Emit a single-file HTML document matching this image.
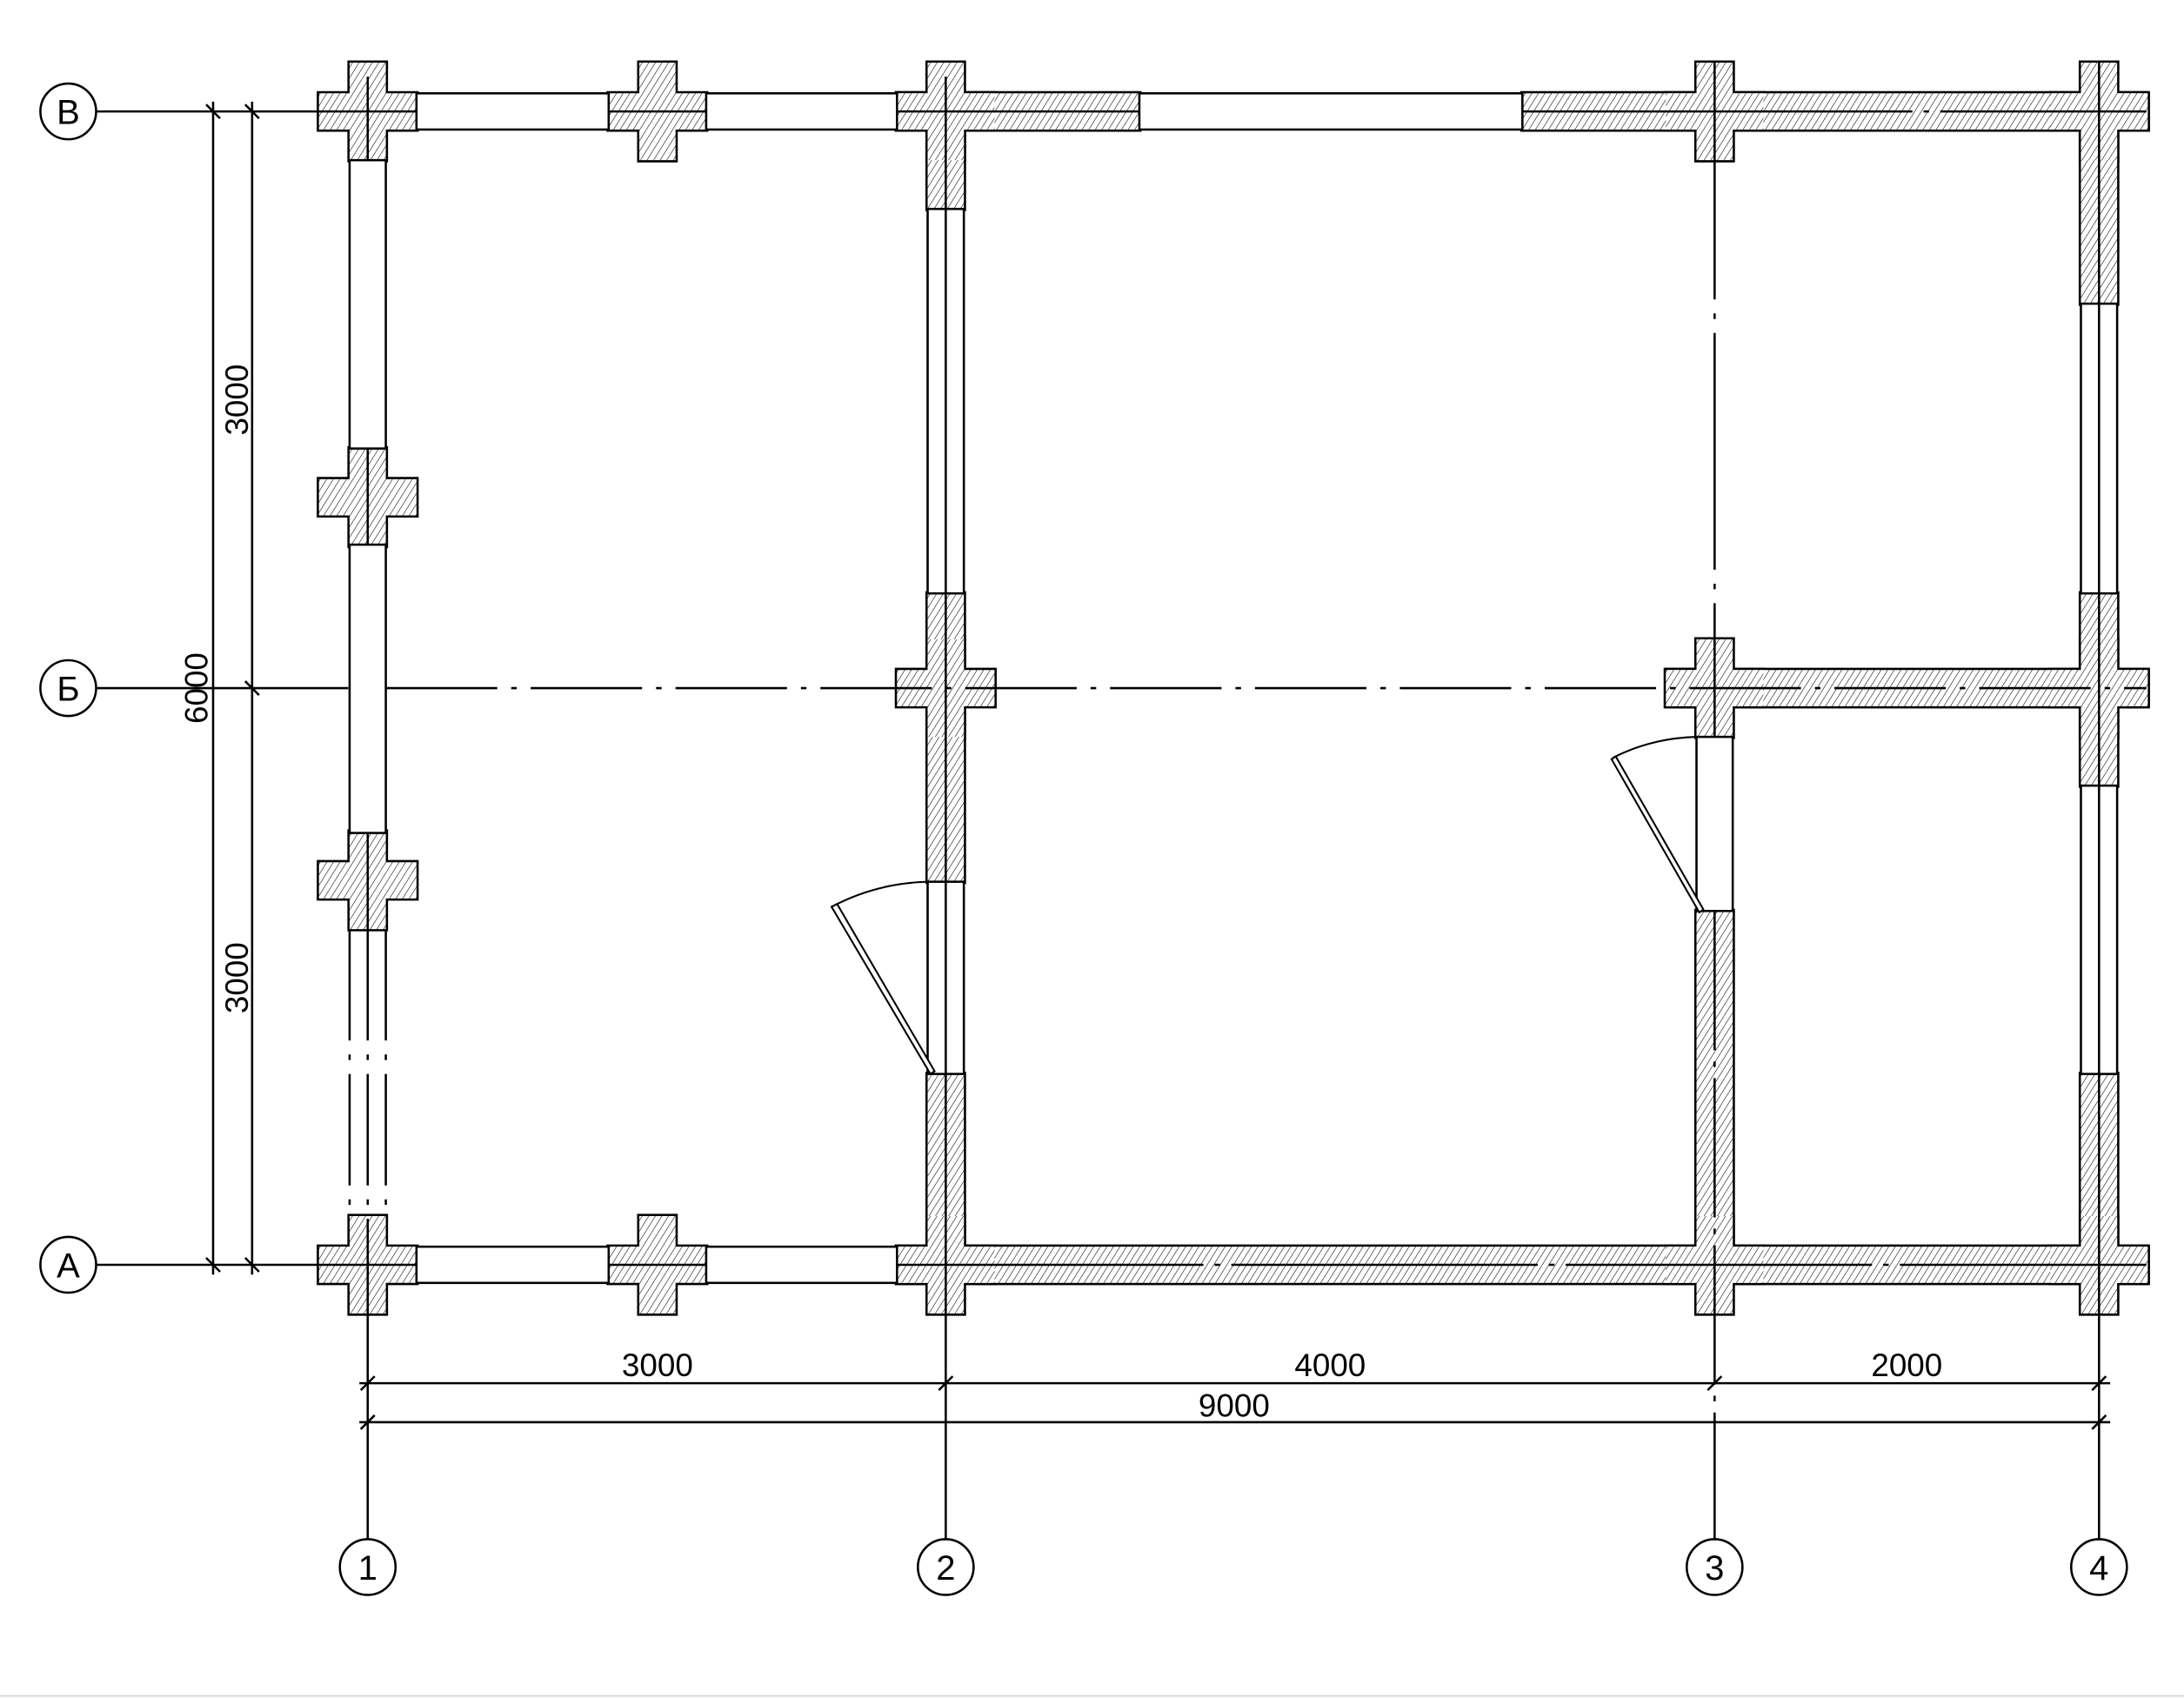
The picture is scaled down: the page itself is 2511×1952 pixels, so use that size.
<!DOCTYPE html>
<html><head><meta charset="utf-8"><style>html,body{margin:0;padding:0;background:#fff}svg{display:block}</style></head><body>
<svg width="2511" height="1952" viewBox="0 0 1568 1219" preserveAspectRatio="none" xmlns="http://www.w3.org/2000/svg" xmlns:xlink="http://www.w3.org/1999/xlink" font-family="Liberation Sans, DejaVu Sans, sans-serif">
<defs>
<pattern id="h" patternUnits="userSpaceOnUse" width="4" height="4" patternTransform="rotate(32)">
<rect width="4" height="4" fill="#fff"/><line x1="0" y1="0" x2="0" y2="4" stroke="#000" stroke-width="0.7"/>
</pattern>
<path id="cr" d="M-13,-35 H13 V-13 H35 V13 H13 V35 H-13 V13 H-35 V-13 H-13 Z"/>
<g id="walls">
<rect x="644" y="67" width="174" height="26"/>
<rect x="1093" y="67" width="448" height="26"/>
<rect x="666" y="93" width="26" height="57"/>
<rect x="666" y="426" width="26" height="207"/>
<rect x="666" y="771" width="26" height="150"/>
<rect x="1197" y="481" width="344" height="26"/>
<rect x="1218" y="654" width="26" height="267"/>
<rect x="1494" y="93" width="26" height="125"/>
<rect x="1494" y="426" width="26" height="138"/>
<rect x="1494" y="771" width="26" height="150"/>
<rect x="644" y="895" width="897" height="26"/>
<use xlink:href="#cr" transform="translate(264,80)"/>
<use xlink:href="#cr" transform="translate(472,80)"/>
<use xlink:href="#cr" transform="translate(679,80)"/>
<use xlink:href="#cr" transform="translate(1231,80)"/>
<use xlink:href="#cr" transform="translate(1507,80)"/>
<use xlink:href="#cr" transform="translate(264,357)"/>
<use xlink:href="#cr" transform="translate(264,632)"/>
<use xlink:href="#cr" transform="translate(679,494)"/>
<use xlink:href="#cr" transform="translate(1231,494)"/>
<use xlink:href="#cr" transform="translate(1507,494)"/>
<use xlink:href="#cr" transform="translate(264,908)"/>
<use xlink:href="#cr" transform="translate(472,908)"/>
<use xlink:href="#cr" transform="translate(679,908)"/>
<use xlink:href="#cr" transform="translate(1231,908)"/>
<use xlink:href="#cr" transform="translate(1507,908)"/>
</g>
</defs>
<rect width="1568" height="1219" fill="#fff"/>
<use xlink:href="#walls" fill="#000" stroke="#000" stroke-width="3.2"/>
<use xlink:href="#walls" fill="url(#h)" stroke="none"/>
<g fill="#fff" stroke="#000" stroke-width="1.6">
<rect x="299" y="67" width="138" height="26"/>
<rect x="507" y="67" width="137" height="26"/>
<rect x="818" y="67" width="275" height="26"/>
<rect x="299" y="895" width="138" height="26"/>
<rect x="507" y="895" width="137" height="26"/>
<rect x="251" y="115" width="26" height="207"/>
<rect x="251" y="391" width="26" height="207"/>
<rect x="666" y="150" width="26" height="276"/>
<rect x="1494" y="218" width="26" height="208"/>
<rect x="1494" y="564" width="26" height="207"/>
<rect x="666" y="633" width="26" height="138"/>
<rect x="1218" y="529" width="26" height="125"/>
</g>
<g stroke="#000" stroke-width="1.6" stroke-dasharray="80,10,4,10">
<line x1="251" y1="667" x2="251" y2="875"/>
<line x1="277" y1="667" x2="277" y2="875"/>
<line x1="264" y1="667" x2="264" y2="875"/>
</g>
<g stroke="#000" stroke-width="1.6" fill="none">
<line x1="69" y1="80" x2="299" y2="80"/>
<line x1="437" y1="80" x2="507" y2="80"/>
<line x1="644" y1="80" x2="818" y2="80"/>
<line x1="1093" y1="80" x2="1541" y2="80" stroke-dasharray="280,8,4,8"/>
<line x1="69" y1="908" x2="299" y2="908"/>
<line x1="437" y1="908" x2="507" y2="908"/>
<line x1="644" y1="908" x2="1541" y2="908" stroke-dasharray="220,8,4,8"/>
<line x1="69" y1="494" x2="250" y2="494"/>
<line x1="277" y1="494" x2="1541" y2="494" stroke-dasharray="80,10,4,10"/>
<line x1="264" y1="55" x2="264" y2="115"/>
<line x1="264" y1="322" x2="264" y2="391"/>
<line x1="264" y1="598" x2="264" y2="667"/>
<line x1="264" y1="875" x2="264" y2="1105"/>
<line x1="679" y1="55" x2="679" y2="1105"/>
<line x1="1231" y1="45" x2="1231" y2="529" stroke-dasharray="170,10,4,10"/>
<line x1="1231" y1="654" x2="1231" y2="1105" stroke-dasharray="100,8,4,8"/>
<line x1="1507" y1="45" x2="1507" y2="1105"/>
</g>
<g stroke="#000" stroke-width="1.3" fill="#fff">
<polygon points="668,771 671,769 601,649 597,651"/>
<path d="M599,650 Q630,634 666,633" fill="none"/>
<polygon points="1220,655 1223,653 1160,543 1157,545"/>
<path d="M1158,544 Q1185,530 1218,529" fill="none"/>
</g>
<g stroke="#000" stroke-width="1.6">
<line x1="153" y1="73" x2="153" y2="915"/>
<line x1="181" y1="73" x2="181" y2="915"/>
<line x1="148" y1="75" x2="158" y2="85"/><line x1="148" y1="903" x2="158" y2="913"/>
<line x1="176" y1="75" x2="186" y2="85"/><line x1="176" y1="489" x2="186" y2="499"/><line x1="176" y1="903" x2="186" y2="913"/>
<line x1="258" y1="993" x2="1515" y2="993"/>
<line x1="258" y1="1021" x2="1515" y2="1021"/>
<line x1="259" y1="998" x2="269" y2="988"/><line x1="674" y1="998" x2="684" y2="988"/><line x1="1226" y1="998" x2="1236" y2="988"/><line x1="1502" y1="998" x2="1512" y2="988"/>
<line x1="259" y1="1026" x2="269" y2="1016"/><line x1="1502" y1="1026" x2="1512" y2="1016"/>
</g>
<g font-size="23" fill="#000" text-anchor="middle">
<text x="472" y="988">3000</text>
<text x="955" y="988">4000</text>
<text x="1369" y="988">2000</text>
<text x="886" y="1017">9000</text>
<text transform="translate(178,287) rotate(-90)">3000</text>
<text transform="translate(178,702) rotate(-90)">3000</text>
<text transform="translate(149,494) rotate(-90)">6000</text>
</g>
<g stroke="#000" stroke-width="1.6" fill="#fff">
<circle cx="49" cy="80" r="20"/><circle cx="49" cy="494" r="20"/><circle cx="49" cy="908" r="20"/>
<circle cx="264" cy="1125" r="20"/><circle cx="679" cy="1125" r="20"/><circle cx="1231" cy="1125" r="20"/><circle cx="1507" cy="1125" r="20"/>
</g>
<g font-size="25" fill="#000" text-anchor="middle">
<text x="49" y="89">В</text><text x="49" y="503">Б</text><text x="49" y="917">А</text>
<text x="264" y="1134">1</text><text x="679" y="1134">2</text><text x="1231" y="1134">3</text><text x="1507" y="1134">4</text>
</g>
<line x1="0" y1="1217.5" x2="1568" y2="1217.5" stroke="#ddd" stroke-width="1.5"/>
</svg>
</body></html>
